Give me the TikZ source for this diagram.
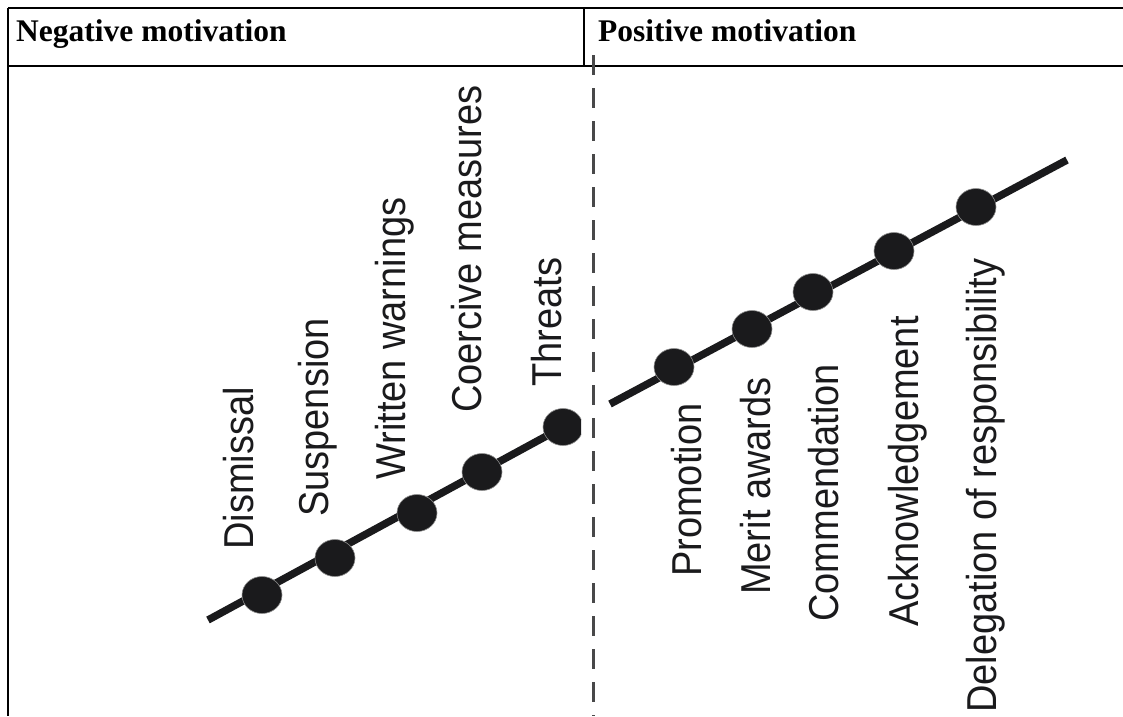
\documentclass[tikz,border=0pt]{standalone}
\usepackage{fontspec}
\setmainfont{Liberation Serif}
\setsansfont{Liberation Sans}
\usetikzlibrary{shapes.geometric,positioning}
\definecolor{ink}{HTML}{1A1A1C}
\definecolor{rim}{HTML}{8C8C8C}

\begin{document}
\begin{tikzpicture}[x=1pt,y=-1pt,
  rule/.style={line width=2.8pt,black},
  divide/.style={line width=3pt,color=ink!80,dash pattern=on 20pt off 13pt},
  scaleline/.style={line width=7.5pt,color=ink},
  bead/.style={ellipse,fill=ink,draw=rim,line width=0.6pt,minimum width=40pt,minimum height=37pt,inner sep=0pt},
  item/.style={rotate=90,yscale=1.1,anchor=base west,inner sep=0pt,text=ink,font=\sffamily\fontsize{38}{38}\selectfont},
  head/.style={anchor=base west,inner sep=0pt,font=\bfseries\fontsize{31.5}{31.5}\selectfont}]
\useasboundingbox (0,0) rectangle (1123,716);

% table frame
\draw [rule] (8,8) -- (1123,8);
\draw [rule] (8,66) -- (1123,66);
\draw [rule] (8,8) -- (8,716);
\draw [rule] (584,8) -- (584,66);
\node [head] (neghead) at (16,41) {Negative motivation};
\node [head] (poshead) at (598,41) {Positive motivation};

% border between the two sides
\coordinate (cuttop) at (593,55);
\coordinate (cutbot) at (593,716);
\draw [divide] (cuttop) -- (cutbot);

% negative side
\begin{scope}
\clip (0,0) rectangle (581,716);
\coordinate (negstart) at (208,620);
\coordinate (negend) at (563,427);
\draw [scaleline] (negstart) -- (negend);
\node [bead] (dismissal) at (262,595) {};
\node [bead] (suspension) at (335,558) {};
\node [bead] (warnings) at (417,513) {};
\node [bead] (coercion) at (482,472) {};
\node [bead] (threats) at (563,427) {};
\end{scope}
\node [item] (dismissal-l) at (253,550) {Dismissal};
\node [item] (suspension-l) at (328,517) {Suspension};
\node [item] (warnings-l) at (405,480) {Written warnings};
\node [item] (coercion-l) at (481,413) {Coercive measures};
\node [item] (threats-l) at (561,387) {Threats};

% positive side
\coordinate (posstart) at (610,404);
\coordinate (posend) at (1067,160);
\draw [scaleline] (posstart) -- (posend);
\node [bead] (promotion) at (674,367) {};
\node [bead] (merit) at (752,329) {};
\node [bead] (commend) at (813,292) {};
\node [bead] (acknow) at (894,251) {};
\node [bead] (delegation) at (976,207) {};
\node [item] (promotion-l) at (701,577) {Promotion};
\node [item] (merit-l) at (770,595) {Merit awards};
\node [item] (commend-l) at (838,622) {Commendation};
\node [item] (acknow-l) at (918,627) {Acknowledgement};
\node [item] (delegation-l) at (996,713) {Delegation of responsibility};
\end{tikzpicture}
\end{document}
